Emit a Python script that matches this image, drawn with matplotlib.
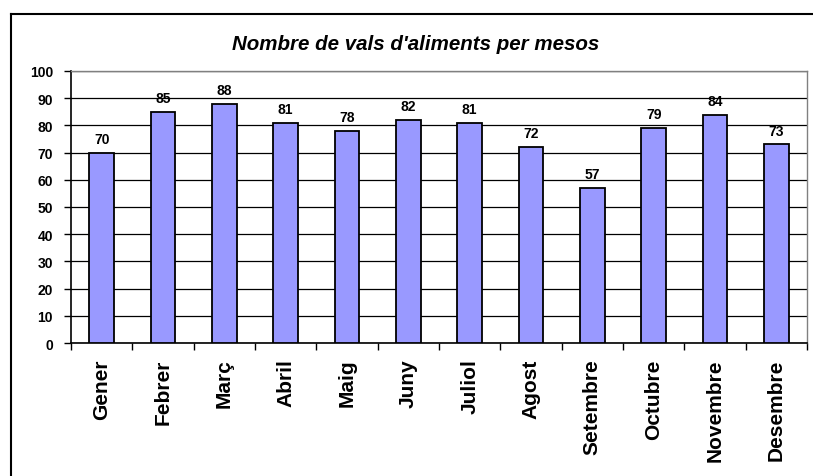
import numpy as np
import matplotlib.pyplot as plt
from matplotlib.lines import Line2D

plt.rcParams['font.family'] = ['Liberation Sans', 'DejaVu Sans']

# Data
months = ['Gener', 'Febrer', 'Març', 'Abril', 'Maig', 'Juny', 'Juliol',
          'Agost', 'Setembre', 'Octubre', 'Novembre', 'Desembre']
values = [70, 85, 88, 81, 78, 82, 81, 72, 57, 79, 84, 73]
yticks = list(range(0, 101, 10))
title = "Nombre de vals d'aliments per mesos"

fig = plt.figure(figsize=(8.13, 4.77), dpi=100)
ax = fig.add_axes([71/813, 1 - 344/477, (807 - 71)/813, (344 - 72)/477])

x = np.arange(len(months))
bars = ax.bar(x, values, width=0.4, color='#9999FF', edgecolor='black',
              linewidth=1.3, zorder=3)

# value labels above the bars
for xi, v in zip(x, values):
    ax.text(xi, v + 2.5, str(v), ha='center', va='bottom', fontsize=10,
            fontweight='bold', zorder=4)

ax.set_xlim(-0.5, len(months) - 0.5)
ax.set_ylim(0, 100)
ax.set_yticks(yticks)
ax.set_yticklabels([str(t) for t in yticks], fontsize=10, fontweight='bold')
ax.tick_params(axis='y', direction='out', length=5, width=1, pad=8)

ax.set_xticks(x)
ax.set_xticklabels(months, rotation=90, fontsize=15, fontweight='bold',
                   va='top', ha='center')
ax.tick_params(axis='x', which='major', length=0, pad=11)
ax.set_xticks(np.arange(-0.5, len(months), 1.0), minor=True)
ax.tick_params(axis='x', which='minor', direction='out', length=5, width=1)

ax.yaxis.grid(True, color='black', linewidth=0.9, zorder=1)
ax.set_axisbelow(True)

ax.spines['left'].set_color('black')
ax.spines['bottom'].set_color('black')
ax.spines['left'].set_linewidth(1.2)
ax.spines['bottom'].set_linewidth(1.2)
ax.spines['top'].set_color('#808080')
ax.spines['right'].set_color('#808080')
ax.spines['top'].set_linewidth(1)
ax.spines['right'].set_linewidth(1)

fig.text(416/813, 1 - 45/477, title, ha='center', va='center', fontsize=14.8,
         fontweight='bold', fontstyle='italic')

# outer chart frame (clipped at right and bottom)
fx, fy = 11/813, 1 - 15/477
fig.add_artist(Line2D([fx, 1], [fy, fy], transform=fig.transFigure,
                      color='black', linewidth=1.5))
fig.add_artist(Line2D([fx, fx], [0, fy], transform=fig.transFigure,
                      color='black', linewidth=1.5))

fig.savefig('out.png', dpi=100)
